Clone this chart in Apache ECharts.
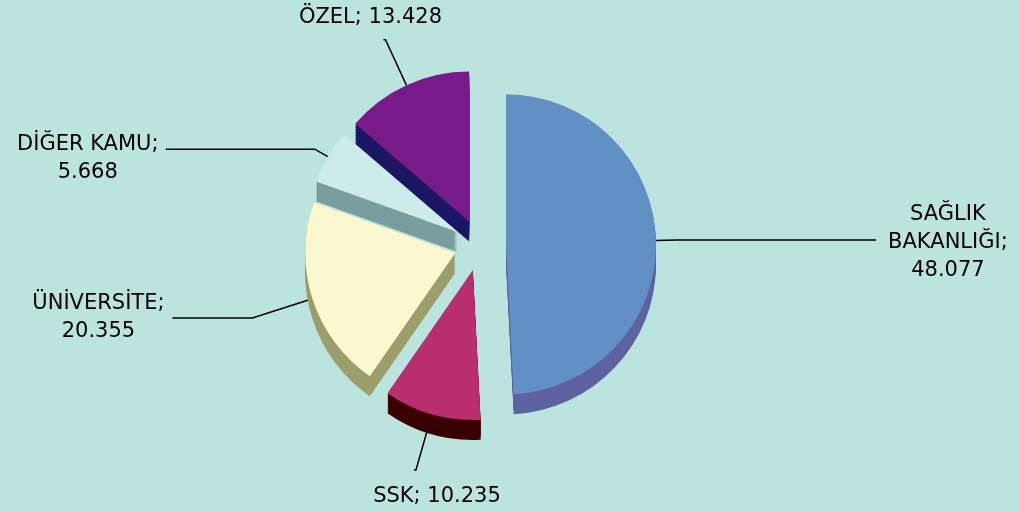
<!DOCTYPE html>
<html>
<head>
<meta charset="utf-8">
<script src="https://cdn.jsdelivr.net/npm/echarts@6/dist/echarts.min.js"></script>
<style>html,body{margin:0;padding:0;background:#BCE4DF;}#c{width:1020px;height:512px;}</style>
</head>
<body>
<div id="c"></div>
<script>
const categories = ['SAĞLIK BAKANLIĞI', 'SSK', 'ÜNİVERSİTE', 'DİĞER KAMU', 'ÖZEL'];
const values = [48.077, 10.235, 20.355, 5.668, 13.428];
const topColors = ['#6390C4', '#B82E6E', '#FBF8D0', '#CDEBE8', '#771B8A'];
const sideColors = ['#5E62A0', '#3A0000', '#9C9E6C', '#7A9E9E', '#1B1663'];

// label layout (styling only): wrap mode, leader lengths, text nudges
const labelWrap = ['words', 'one', 'two', 'two', 'one'];
const leaderLen = [[20, 200], [58, 2], [63, 80], [15, 149], [50, 2]];
const labelNudge = [[67, 3], [28, 26], [-69, 0], [-73, 9], [-8, -22]];

const cx = 480, cy = 245, R = 150, depth = 20, step = 2, offset = 26;

function fmt(v) { return v.toFixed(3); }
function labelText(name, value, mode) {
  const s = name + '; ' + fmt(value);
  if (mode === 'words') return s.split(' ').join('\n');
  if (mode === 'two') return name + ';\n' + fmt(value);
  return s;
}

const series = [];
for (let k = depth; k >= step; k -= step) {
  series.push({
    type: 'pie',
    silent: true,
    center: [cx, cy + k],
    radius: R,
    startAngle: 90,
    selectedMode: 'multiple',
    selectedOffset: offset,
    animation: false,
    label: { show: false },
    labelLine: { show: false },
    data: categories.map((n, i) => ({
      name: n, value: values[i], selected: true,
      itemStyle: { color: sideColors[i] }
    }))
  });
}
series.push({
  type: 'pie',
  center: [cx, cy],
  radius: R,
  startAngle: 90,
  selectedMode: 'multiple',
  selectedOffset: offset,
  animation: false,
  label: {
    show: true,
    color: '#000',
    fontFamily: 'DejaVu Sans',
    fontSize: 21,
    lineHeight: 28,
    formatter: p => labelText(p.name, p.value, labelWrap[p.dataIndex])
  },
  labelLine: { show: true, lineStyle: { color: '#000', width: 1.5 } },
  labelLayout: p => ({
    dx: labelNudge[p.dataIndex][0],
    dy: labelNudge[p.dataIndex][1],
    align: 'center'
  }),
  data: categories.map((n, i) => ({
    name: n, value: values[i], selected: true,
    itemStyle: { color: topColors[i] },
    labelLine: { length: leaderLen[i][0], length2: leaderLen[i][1] }
  }))
});

const chart = echarts.init(document.getElementById('c'), null, { renderer: 'canvas' });
chart.setOption({
  backgroundColor: '#BCE4DF',
  animation: false,
  series: series
});
</script>
</body>
</html>
